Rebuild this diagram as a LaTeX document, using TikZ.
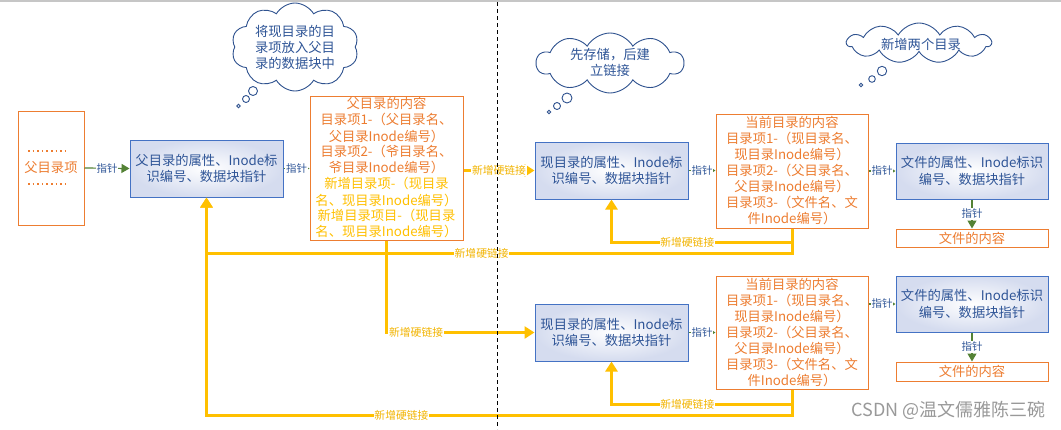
\documentclass[tikz,border=0pt]{standalone}
\usepackage{fontspec}
\setmainfont{Noto Sans CJK SC}
\usetikzlibrary{shapes.symbols,arrows.meta}
\definecolor{oran}{HTML}{ED7D31}
\definecolor{gold}{HTML}{FFC000}
\definecolor{goldtxt}{HTML}{F2B400}
\definecolor{bord}{HTML}{4472C4}
\definecolor{btxt}{HTML}{2F5597}
\definecolor{grn}{HTML}{548235}
\definecolor{cloudc}{HTML}{2F528F}
\definecolor{bfill}{HTML}{D5DCEF}
\begin{document}
\begin{tikzpicture}[x=1pt,y=-1pt,
  font=\fontsize{13}{16}\selectfont,
  bluebox/.style={draw=bord, line width=1pt, inner color=white, outer color=bfill, text=btxt,
    minimum width=153pt, minimum height=57pt, align=center, inner sep=0pt,
    font=\fontsize{13.3}{16.5}\selectfont},
  orbox/.style={draw=oran, line width=1pt, fill=white, text=oran, align=center, inner sep=0pt,
    font=\fontsize{13.3}{16}\selectfont},
  ptr/.style={draw=grn, line width=1.2pt, -{Triangle[length=3.5pt,width=4pt]}},
  bigptr/.style={draw=grn, line width=1.2pt, -{Triangle[length=8pt,width=9pt]}},
  ptrlbl/.style={fill=white, text=btxt, font=\fontsize{10.5}{12}\selectfont, inner sep=0.8pt},
  gline/.style={draw=gold, line width=3pt},
  glink/.style={gline, -{Triangle[length=10pt,width=12pt]}},
  glbl/.style={fill=white, text=goldtxt, font=\fontsize{10.8}{12}\selectfont, inner sep=0.8pt},
  thought/.style={cloud, cloud puffs=10, cloud puff arc=120, cloud ignores aspect,
    draw=cloudc, line width=0.9pt, fill=white, inner sep=0pt},
  ctext/.style={text=btxt, align=center, font=\fontsize{13.3}{16}\selectfont},
  bubble/.style={draw=cloudc, line width=0.9pt, fill=white},
]
\useasboundingbox (0,0) rectangle (1061,429);
\fill[white] (0,0) rectangle (1061,429);
\draw[gray!45, line width=1.5pt] (0,0.75) -- (1061,0.75);

% thought clouds
\node[thought, minimum width=127pt, minimum height=88pt] (cl1) at (295,47) {};
\node[ctext] (t1) at (cl1.center) {将现目录的目\\录项放入父目\\录的数据块中};
\draw[bubble] (253,91) circle (4.5pt);
\draw[bubble] (246,99) circle (3.5pt);
\draw[bubble] (238.5,106) circle (1.8pt);

\node[thought, minimum width=147pt, minimum height=60pt] (cl2) at (610,63) {};
\node[ctext] (t2) at (610,62) {先存储，后建\\立链接};
\draw[bubble] (567,98) circle (5pt);
\draw[bubble] (557,106) circle (3.5pt);
\draw[bubble] (549,112) circle (1.8pt);

\node[thought, cloud puffs=11, minimum width=144pt, minimum height=40pt] (cl3) at (919,43) {};
\node[ctext] (t3) at (921,44) {新增两个目录};
\draw[bubble] (882,71) circle (4.7pt);
\draw[bubble] (872,79) circle (3.3pt);
\draw[bubble] (861,85) circle (1.8pt);

% boxes
\node[orbox, minimum width=66pt, minimum height=114pt] (p1) at (51,168) {父目录项};
\draw[oran, line width=1.2pt, dash pattern=on 1.6pt off 3pt] (28,151) -- (68,151);
\draw[oran, line width=1.2pt, dash pattern=on 1.6pt off 3pt] (28,184) -- (68,184);

\node[bluebox] (b1) at (206.5,168.5) {父目录的属性、Inode标\\识编号、数据块指针};
\node[orbox, minimum width=153pt, minimum height=144pt] (o2) at (386.5,168)
  {父目录的内容\\目录项1-（父目录名、\\父目录Inode编号）\\目录项2-（爷目录名、\\爷目录Inode编号）\\
   \textcolor{gold}{新增目录项-（现目录}\\\textcolor{gold}{名、现目录Inode编号）}\\
   \textcolor{gold}{新增目录项目-（现目录}\\\textcolor{gold}{名、现目录Inode编号）}};

\node[bluebox] (b2) at (611.5,170.5) {现目录的属性、Inode标\\识编号、数据块指针};
\node[orbox, minimum width=152pt, minimum height=114pt] (o3) at (792,171)
  {当前目录的内容\\目录项1-（现目录名、\\现目录Inode编号）\\目录项2-（父目录名、\\父目录Inode编号）\\目录项3-（文件名、文\\件Inode编号）};
\node[bluebox, minimum width=152pt, minimum height=56pt] (f1) at (972,171) {文件的属性、Inode标识\\编号、数据块指针};
\node[orbox, minimum width=152pt, minimum height=18pt] (c1) at (972,238) {文件的内容};

\node[bluebox] (b4) at (611.5,332.5) {现目录的属性、Inode标\\识编号、数据块指针};
\node[orbox, minimum width=152pt, minimum height=113pt] (o5) at (792,332.5)
  {当前目录的内容\\目录项1-（现目录名、\\现目录Inode编号）\\目录项2-（父目录名、\\父目录Inode编号）\\目录项3-（文件名、文\\件Inode编号）};
\node[bluebox, minimum width=152pt, minimum height=56pt] (f2) at (972,304) {文件的属性、Inode标识\\编号、数据块指针};
\node[orbox, minimum width=152pt, minimum height=19pt] (c2) at (972,371.5) {文件的内容};

% pointer arrows
\draw[bigptr] (p1.east) -- node[ptrlbl]{指针} (b1.west);
\draw[ptr] (b1.east) -- node[ptrlbl]{指针} (o2.west |- b1.east);
\draw[ptr] (b2.east) -- node[ptrlbl]{指针} (o3.west |- b2.east);
\draw[ptr] (o3.east |- f1.west) -- node[ptrlbl]{指针} (f1.west);
\draw[bigptr] (f1.south) -- node[ptrlbl]{指针} (c1.north);
\draw[ptr] (b4.east) -- node[ptrlbl]{指针} (o5.west |- b4.east);
\draw[ptr] (o5.east |- f2.west) -- node[ptrlbl]{指针} (f2.west);
\draw[bigptr] (f2.south) -- node[ptrlbl]{指针} (c2.north);

% hard-link connectors
\coordinate (ja) at (792,242);
\coordinate (jb) at (792,253);
\coordinate (jc) at (792,404);
\coordinate (jd) at (792,415);
\draw[glink] (o5.south) -- (jd) -- node[glbl, pos=0.667]{新增硬链接} (jd -| b1.south) -- (b1.south);
\draw[glink] (o3.south) -- (jb) -- node[glbl, pos=0.53]{新增硬链接} (jb -| b1.south) -- (b1.south);
\draw[glink] (o3.south) -- (ja) -- node[glbl, pos=0.58]{新增硬链接} (ja -| b2.south) -- (b2.south);
\draw[glink] (o5.south) -- (jc) -- node[glbl, pos=0.58]{新增硬链接} (jc -| b4.south) -- (b4.south);
\draw[glink] (o2.south) -- (o2.south |- b4.west) -- node[glbl, pos=0.2]{新增硬链接} (b4.west);
\draw[glink] (o2.east |- b2.west) -- node[glbl]{新增硬链接} (b2.west);

% divider
\draw[black, line width=0.8pt, dash pattern=on 4pt off 3pt] (497,2) -- (497,429);

% watermark
\node[text=gray!80, font=\fontsize{18}{20}\selectfont, anchor=east, inner sep=0pt] (wm) at (1046,410) {CSDN @温文儒雅陈三碗};
\end{tikzpicture}
\end{document}
